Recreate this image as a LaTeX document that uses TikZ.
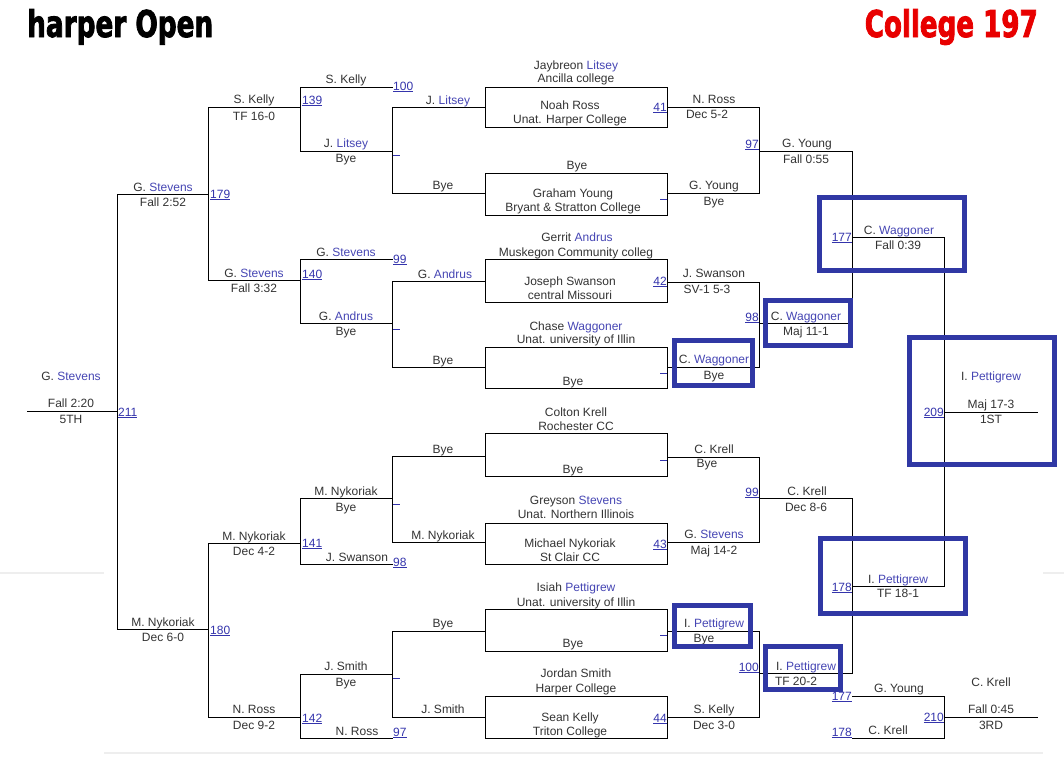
\documentclass[tikz,border=0pt]{standalone}
\usepackage{fontspec}
\setmainfont{Liberation Sans}
\newfontfamily\titlefont{DejaVu Sans Condensed}[BoldFeatures={FakeBold=2.5}]
\usepackage{graphicx}
\definecolor{txt}{HTML}{333333}
\definecolor{nm}{HTML}{4646B4}
\definecolor{lnk}{HTML}{3434AC}
\definecolor{hb}{HTML}{3038A4}
\definecolor{sep}{HTML}{EEEEEE}
\definecolor{ttl}{HTML}{E80000}
\newcommand\bn[1]{\textcolor{nm}{#1}}
\newcommand\lk[1]{\setbox0\hbox{#1}\rlap{\rule[-1.6pt]{\wd0}{0.8pt}}\box0}
\newcounter{lbc}
\newcommand\Lb[3]{\stepcounter{lbc}\node[lab] (lab\arabic{lbc}) at (#1,#2) {#3};}
\newcommand\Nw[3]{\stepcounter{lbc}\node[numw] (num\arabic{lbc}) at (#1,#2) {\lk{#3}};}
\newcommand\Ne[3]{\stepcounter{lbc}\node[nume] (num\arabic{lbc}) at (#1,#2) {\lk{#3}};}
\begin{document}
\begin{tikzpicture}[x=1pt,y=-1pt,
  br/.style={line width=1pt, draw=black, line cap=rect},
  lab/.style={font=\fontsize{12}{14}\selectfont, text=txt, inner sep=0pt, anchor=base, yshift=-4pt},
  numw/.style={font=\fontsize{12}{14}\selectfont, text=lnk, inner sep=0pt, anchor=base west},
  nume/.style={font=\fontsize{12}{14}\selectfont, text=lnk, inner sep=0pt, anchor=base east},
  hbox/.style={draw=hb, line width=5pt},
  tick/.style={draw=lnk, line width=1pt},
  sepl/.style={draw=sep, line width=2pt}]
\useasboundingbox (0,0) rectangle (1064,769);
\fill[white] (0,0) rectangle (1064,769);

% separators
\draw[sepl] (0,573) -- (104,573);
\draw[sepl] (1043,573) -- (1064,573);
\draw[sepl] (104,753) -- (1043,753);

% titles
\node[anchor=base west, inner sep=0pt] (title1) at (27,37) {\resizebox{186pt}{28pt}{\titlefont\bfseries harper Open}};
\node[anchor=base east, inner sep=0pt, text=ttl] (title2) at (1038,37) {\resizebox{173pt}{28pt}{\titlefont\bfseries College 197}};

% ---------- bracket lines ----------
% C0 / C1
\draw[br] (27,411) -- (117,411);
\draw[br] (117,194) -- (117,629);
\draw[br] (117,194) -- (208,194);
\draw[br] (117,629) -- (208,629);
% C2
\draw[br] (208,107) -- (208,280);
\draw[br] (208,543) -- (208,717);
\foreach \y in {107,280,543,717} \draw[br] (208,\y) -- (300,\y);
% C3
\draw[br] (300,87) -- (300,151);
\draw[br] (300,259) -- (300,323);
\draw[br] (300,498) -- (300,564);
\draw[br] (300,674) -- (300,738);
\foreach \y in {87,151,259,323,498,564,674,738} \draw[br] (300,\y) -- (392,\y);
% C4
\draw[br] (392,107) -- (392,193);
\draw[br] (392,281) -- (392,367);
\draw[br] (392,456) -- (392,542);
\draw[br] (392,631) -- (392,717);
\foreach \y in {107,193,281,367,456,542,631,717} \draw[br] (392,\y) -- (485,\y);
% boxes
\draw[br] (485,87) rectangle (667,127);
\draw[br] (485,173) rectangle (667,215);
\draw[br] (485,259) rectangle (667,302);
\draw[br] (485,347) rectangle (667,388);
\draw[br] (485,433) rectangle (667,476);
\draw[br] (485,523) rectangle (667,564);
\draw[br] (485,609) rectangle (667,651);
\draw[br] (485,696) rectangle (667,738);
% C5
\foreach \y in {107,193,282,367,457,542,631,717} \draw[br] (667,\y) -- (759,\y);
\draw[br] (759,107) -- (759,193);
\draw[br] (759,282) -- (759,367);
\draw[br] (759,457) -- (759,542);
\draw[br] (759,631) -- (759,717);
% C6
\foreach \y in {151,323,498,673} \draw[br] (759,\y) -- (852,\y);
\draw[br] (852,151) -- (852,323);
\draw[br] (852,498) -- (852,673);
% C7
\draw[br] (852,237) -- (944,237);
\draw[br] (852,586) -- (944,586);
\draw[br] (944,237) -- (944,586);
\draw[br] (944,412) -- (1037,412);
% 3rd place
\draw[br] (852,696) -- (944,696);
\draw[br] (852,738) -- (944,738);
\draw[br] (944,696) -- (944,738);
\draw[br] (944,717) -- (1037,717);

% ticks
\foreach \y in {155,329,504,678} \draw[tick] (393,\y) -- (400,\y);
\foreach \y in {199,373,460,635} \draw[tick] (660,\y) -- (667,\y);

% ---------- labels ----------
% C0
\Lb{71}{376}{G. \bn{Stevens}}
\Lb{71}{403}{Fall 2:20}
\Lb{71}{419}{5TH}
% C1
\Lb{163}{187}{G. \bn{Stevens}}
\Lb{163}{202}{Fall 2:52}
\Lb{163}{622}{M. Nykoriak}
\Lb{163}{637}{Dec 6-0}
% C2
\Lb{254}{99}{S. Kelly}
\Lb{254}{116}{TF 16-0}
\Lb{254}{273}{G. \bn{Stevens}}
\Lb{254}{288}{Fall 3:32}
\Lb{254}{536}{M. Nykoriak}
\Lb{254}{551}{Dec 4-2}
\Lb{254}{709}{N. Ross}
\Lb{254}{725}{Dec 9-2}
% C3
\Lb{346}{79}{S. Kelly}
\Lb{346}{143}{J. \bn{Litsey}}
\Lb{346}{158}{Bye}
\Lb{346}{252}{G. \bn{Stevens}}
\Lb{346}{316}{G. \bn{Andrus}}
\Lb{346}{331}{Bye}
\Lb{346}{491}{M. Nykoriak}
\Lb{346}{507}{Bye}
\Lb{357}{557}{J. Swanson}
\Lb{346}{666}{J. Smith}
\Lb{346}{682}{Bye}
\Lb{357}{731}{N. Ross}
% C4
\Lb{448}{100}{J. \bn{Litsey}}
\Lb{443}{185}{Bye}
\Lb{445}{274}{G. \bn{Andrus}}
\Lb{443}{360}{Bye}
\Lb{443}{449}{Bye}
\Lb{443}{535}{M. Nykoriak}
\Lb{443}{623}{Bye}
\Lb{443}{709}{J. Smith}
% boxes
\Lb{576}{65}{Jaybreon \bn{Litsey}}
\Lb{576}{78}{Ancilla college}
\Lb{570}{105}{Noah Ross}
\Lb{570}{119}{Unat. Harper College}
\Lb{577}{165}{Bye}
\Lb{573}{193}{Graham Young}
\Lb{573}{207}{Bryant \& Stratton College}
\Lb{577}{237}{Gerrit \bn{Andrus}}
\Lb{576}{252}{Muskegon Community colleg}
\Lb{570}{281}{Joseph Swanson}
\Lb{570}{295}{central Missouri}
\Lb{576}{326}{Chase \bn{Waggoner}}
\Lb{576}{339}{Unat. university of Illin}
\Lb{573}{381}{Bye}
\Lb{576}{412}{Colton Krell}
\Lb{576}{426}{Rochester CC}
\Lb{573}{469}{Bye}
\Lb{576}{500}{Greyson \bn{Stevens}}
\Lb{576}{514}{Unat. Northern Illinois}
\Lb{570}{543}{Michael Nykoriak}
\Lb{570}{557}{St Clair CC}
\Lb{576}{587}{Isiah \bn{Pettigrew}}
\Lb{576}{602}{Unat. university of Illin}
\Lb{573}{643}{Bye}
\Lb{576}{673}{Jordan Smith}
\Lb{576}{688}{Harper College}
\Lb{570}{717}{Sean Kelly}
\Lb{570}{731}{Triton College}
% C5
\Lb{714}{99}{N. Ross}
\Lb{707}{114}{Dec 5-2}
\Lb{714}{185}{G. Young}
\Lb{714}{201}{Bye}
\Lb{714}{273}{J. Swanson}
\Lb{707}{289}{SV-1 5-3}
\Lb{714}{359}{C. \bn{Waggoner}}
\Lb{714}{375}{Bye}
\Lb{714}{449}{C. Krell}
\Lb{707}{463}{Bye}
\Lb{714}{534}{G. \bn{Stevens}}
\Lb{714}{550}{Maj 14-2}
\Lb{714}{623}{I. \bn{Pettigrew}}
\Lb{704}{638}{Bye}
\Lb{714}{709}{S. Kelly}
\Lb{714}{725}{Dec 3-0}
% C6
\Lb{807}{143}{G. Young}
\Lb{806}{159}{Fall 0:55}
\Lb{806}{316}{C. \bn{Waggoner}}
\Lb{806}{331}{Maj 11-1}
\Lb{807}{491}{C. Krell}
\Lb{806}{507}{Dec 8-6}
\Lb{806}{666}{I. \bn{Pettigrew}}
\Lb{796}{681}{TF 20-2}
% C7
\Lb{899}{230}{C. \bn{Waggoner}}
\Lb{898}{245}{Fall 0:39}
\Lb{898}{579}{I. \bn{Pettigrew}}
\Lb{898}{593}{TF 18-1}
\Lb{899}{688}{G. Young}
\Lb{888}{730}{C. Krell}
% C8
\Lb{991}{376}{I. \bn{Pettigrew}}
\Lb{991}{404}{Maj 17-3}
\Lb{991}{419}{1ST}
\Lb{991}{682}{C. Krell}
\Lb{991}{709}{Fall 0:45}
\Lb{991}{725}{3RD}

% ---------- bout numbers ----------
\Nw{118}{416}{211}
\Nw{210}{198}{179}
\Nw{210}{634}{180}
\Nw{302}{104}{139}
\Nw{302}{278}{140}
\Nw{302}{547}{141}
\Nw{302}{722}{142}
\Nw{393}{90}{100}
\Nw{393}{263}{99}
\Nw{393}{566}{98}
\Nw{393}{736}{97}
\Ne{667}{111}{41}
\Ne{667}{285}{42}
\Ne{667}{548}{43}
\Ne{667}{722}{44}
\Ne{759}{148}{97}
\Ne{759}{321}{98}
\Ne{759}{496}{99}
\Ne{759}{671}{100}
\Ne{852}{241}{177}
\Ne{852}{591}{178}
\Ne{944}{416}{209}
\Ne{944}{721}{210}
\Ne{852}{700}{177}
\Ne{852}{736}{178}

% ---------- highlight boxes ----------
\draw[hbox] (819.5,197.5) rectangle (964.5,270.5);
\draw[hbox] (674.5,340.5) rectangle (752.5,385.5);
\draw[hbox] (765.5,300.5) rectangle (850.5,345.5);
\draw[hbox] (909.5,337.5) rectangle (1054.5,464.5);
\draw[hbox] (820.5,538.5) rectangle (965.5,613.5);
\draw[hbox] (674.5,605.5) rectangle (750.5,646.5);
\draw[hbox] (765.5,646.5) rectangle (840.5,689.5);
\end{tikzpicture}
\end{document}
